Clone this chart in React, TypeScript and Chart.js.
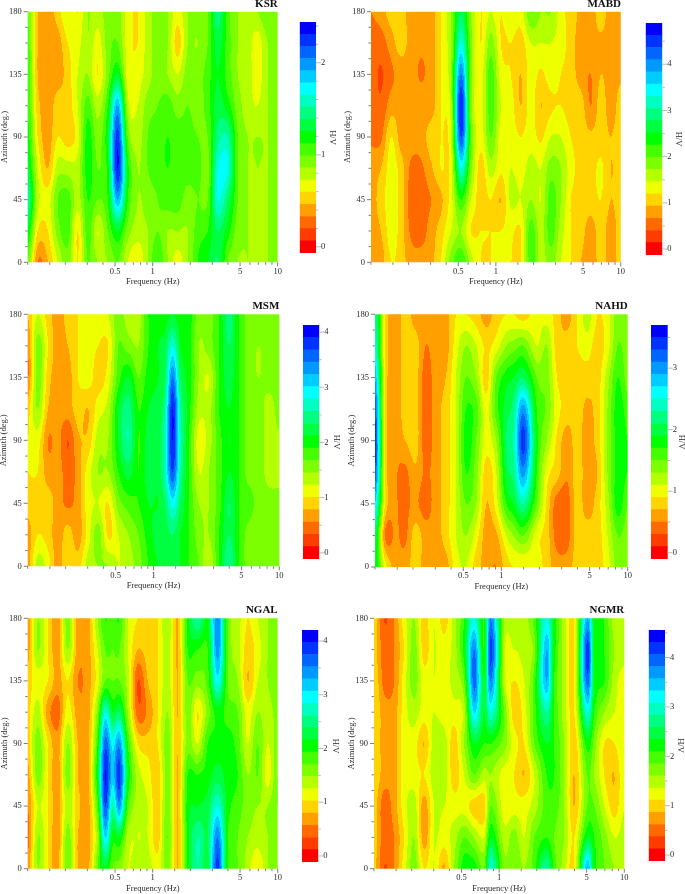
import React, { useEffect, useRef } from "react";
import { Chart, registerables } from "chart.js";

Chart.register(...registerables);

const FONT = "'Liberation Serif', 'Times New Roman', serif";
const bandColors = ["#ff0000","#ff3c00","#ff6900","#ff9f00","#ffd400","#eeff00","#b4ff00","#7cff00","#45ff00","#00ff00","#00ff40","#00ff80","#00ffc0","#00ffff","#00ccff","#0099ff","#0066ff","#0033ff","#0000ff"];
const frequencies = [0.1,0.12,0.145,0.174,0.209,0.251,0.302,0.363,0.437,0.525,0.631,0.759,0.912,1.096,1.318,1.585,1.905,2.291,2.754,3.311,3.981,4.786,5.754,6.918,8.318,10];
const msmFrequencies = [0.1,0.12,0.145,0.174,0.209,0.251,0.302,0.363,0.437,0.525,0.631,0.759,0.912,1.096,1.234,1.419,1.632,1.905,2.291,2.754,3.311,3.981,4.786,5.754,6.918,8.318,10];
const nahdFrequencies = [0.1,0.12,0.145,0.174,0.209,0.251,0.302,0.363,0.437,0.525,0.631,0.759,0.912,1.096,1.245,1.493,1.905,2.291,2.754,3.311,3.981,4.786,5.754,6.918,8.318,10];
const ngalFrequencies = [0.1,0.12,0.145,0.174,0.209,0.251,0.302,0.363,0.416,0.479,0.541,0.631,0.759,0.912,1.096,1.318,1.585,1.905,2.291,2.754,3.311,3.981,4.786,5.754,6.918,8.318,10];
const ngmrFrequencies = [0.1,0.12,0.145,0.174,0.209,0.251,0.302,0.363,0.437,0.525,0.631,0.759,0.855,1.096,1.318,1.585,1.905,2.396,2.754,3.311,3.981,5.06,5.754,6.918,8.318,10];
const azimuths = [180,157.5,135,112.5,90,67.5,45,22.5,0];
const azimuthTicks = [0,11.25,22.5,33.75,45,56.25,67.5,78.75,90,101.25,112.5,123.75,135,146.25,157.5,168.75,180];
const frequencyTicks = [0.1,0.15,0.2,0.3,0.4,0.5,0.6,0.7,0.8,0.9,1,1.5,2,3,4,5,6,7,8,9,10];
const frequencyLabels = [0.5,1,5,10];

// Colour-band position of each node: one row per frequency, top (180 deg) to bottom (0 deg).
const ksrBands = [
[8,8.5,9,9,9.5,10.5,12,10,8],[4,4,4,4.5,5,6,6.5,5,3],[3.5,3.5,3.5,3.5,3.5,4,5.5,5,4],[4.5,3.5,3.5,4.5,5,6.5,8,7.5,6],[6,5,4.5,4.5,4.5,6.5,8.5,8.5,7.5],[5,5.5,6,6,5.5,6.5,6.5,5,5],
[7,7,7,8.5,9.5,9.5,9,8.5,8],[6.5,5.5,5,6.5,7.5,8,8,6,7],[7.5,7.5,7.5,9,10,9.5,9,8,7],[7.5,8,10,15,17.5,18,15,10,8],[5.5,5.5,5.5,6.5,8,9.5,9,7.5,6],[5,5,5.5,6,6.5,7,7,6.5,5],
[6.5,6.5,6.5,7.5,8,8,7.5,7,7],[7.5,7.5,7.5,8,8.5,8.5,8,8,9],[7,7,7,8.5,9,9,8.5,7,7],[5.5,4.5,6,7.5,8.5,8.5,8.5,7,5.5],[7,7,7.5,8,8.5,8.5,7.5,7,7],[7.5,7,7.5,7.5,8,8.5,8,8.5,9],
[8,8,8.5,8.5,8,7.5,8,9,10],[11.5,10.5,10,10.5,11.5,13,13,11,11],[8.5,8.5,8.5,9.5,12,13,11,9.5,8],[7,7,7,7.5,8,8,8,7.5,7],[6.5,6.5,6.5,6.5,7,7,7,7,7],[7,5.5,5.5,6,7,7,7,7,7],[8,7,7,7,7,7,7,7,7],[7.5,7.5,7.5,7.5,7.5,7.5,7.5,7.5,7.5]];
const mabdBands = [
[3,2.5,2.5,2.5,2.8,3.5,3.5,3.5,3.5],[3.5,2.5,1.9,2.2,2.8,4,4.5,4,3.5],[4.5,3.5,2.8,3.5,5,5.5,5.5,5.5,5],[4.5,4.5,3.3,3.5,3.5,4.5,4.5,4.5,4.5],[3.5,3.5,3.5,3.5,3.5,2.8,2.5,2.8,3.5],[3.5,3.2,2.9,3.5,3.5,2.8,2.5,2.5,3.5],
[3.5,3.5,3.5,3.5,4.5,3.8,3,3.5,3.7],[5,5,5,5,5,5,3.8,4.5,5],[7,7,7,6.5,6,5.5,5.5,6,7.5],[11,13,16,18,17,13,9,7,9],[7,7.5,7.5,7.5,8,7.5,6,5,6.5],[5,5,5.5,5.5,5.5,4.5,4.5,5,5],
[6,7.5,8.5,8.5,8,6.5,5,5,5],[5,5,5.5,6,5.5,5.2,4,5,5],[6,5,5,5.5,5.5,6,6.2,5.2,5],[5.5,4.5,4,4,5,5.5,6,5,5],[8,6,5.5,5.5,5.5,6.5,7,8.5,8.5],[7,6,4.8,4,4.8,6,6,6.5,6.5],
[7,6,5.5,4.8,6,7.5,8.5,8.5,7.5],[5.5,5.5,5,5,6,7,7,6.5,6],[4.5,4.5,4.5,4.5,5,5.5,5,5,5],[3.8,3.5,3.5,4.5,4.5,4.5,4.5,4.5,4],[3.5,3.5,3,3,4.2,4.5,4.5,3.5,3.2],[4.5,3.8,4,4.5,4.5,5.2,5,4.5,4.5],[3.5,3.5,3.5,3.5,4,4,4,3.5,3.5],[4,3.5,3.8,4.5,4.5,4.5,4.5,4.5,4.5]];
const msmBands = [
[4,3,2.8,4.5,5,5,4.5,3.5,3.5],[6,7.5,7.5,7,5.5,5,4.5,5,6.5],[4.5,5,4.5,4,3,3.5,4.5,4.5,5.5],[3.5,3.5,3.5,3.5,3.3,3.5,3.5,3.5,3.5],[4.5,4,3.5,3.5,2,2.5,2.8,4.5,5],[5,5,5,4.5,3.8,3.5,3.5,3.5,4.5],
[6,5.5,5.5,4,4.3,5.5,5.5,5.5,6.5],[5.5,5,4.5,5.5,6.5,7,6,7.5,7],[6,5,5.5,6.5,7,7,5,4.8,7],[7.5,8,8.5,10,10,9,7.5,6,6],[6.5,7.5,10,11.5,12,10.5,8.5,7,6.5],[6.5,7,8,9,9,9,9,8,7.5],
[9,9,9.5,10,10.5,10.5,10,9.5,9],[9.5,10,10,10.5,10.5,10.5,10,10.5,10],[9.5,10.5,11,12,12.5,12.5,11,10.5,10],[10,13,16,18,18,17,13.5,11,10.5],[9.5,10,11,12,12.5,12,11,10,10],[9.5,9.5,9.5,9.5,9,9,9,9,9],[7.5,7,7,6.5,5.5,6,7,7.5,8],
[7.5,7.5,6,6.5,6.5,7,7,7,6],[9,9,9,9,8.5,8.5,8.5,9,9],[11.5,11,10.5,10,10,10,11,11,12],[9,9,9,9,9,9,9,9,9],[7.5,7.5,7.5,7.5,7.5,7.5,8.5,7.5,7.5],[7.5,7,7,7.5,7.5,7.5,7.5,7.5,7.5],[7.5,7.5,7.5,6.5,6.5,6.5,7.5,7.5,7.5],[7.5,7.5,7.5,7.5,6.8,6.5,7.5,7.5,7.5]];
const nahdBands = [
[12,13,15,17,17.5,17,14,11,10],[5,5,5,5,5,5,5,3,5.5],[3.5,3.5,3.5,3.5,3.5,3.2,3.2,3.2,3.5],[4.5,4.5,4.5,4.5,4,2.8,2.8,2.8,3.5],[3.5,4.5,4.5,4.5,4.5,3.8,3.2,4.5,4.5],[3.5,3,2.5,2.5,2.5,2.8,2.5,3.5,3.5],
[3.5,3.5,3.5,3.5,3.5,3.5,3.5,3.5,3.5],[3.5,3.5,4,4.5,4.5,4.5,4.5,4.5,3.5],[5,5.5,6,6,6,6,6,6,5.5],[5,7,8,9,9.5,9,8,7,6],[4.5,6,7,8.5,8,7.5,7,5.5,4.5],[3.5,4.8,4.5,5.5,5.5,4.5,4,3.5,3.5],
[4.5,5.5,8,8.5,7,6,5.5,3.8,3],[5,7,9.5,10.5,11,10.5,9,6,4.5],[5,7.5,10,11.5,12,11.5,10,7,5],[4.5,8,11,15.5,17.5,15.5,12,8,5],[5.5,6,8,9,9.5,9,8,5.5,5.5],[5.5,7,7.5,7.8,7,5.5,4.8,4.5,4.5],
[4.5,4.5,5,5.5,4.8,4.5,2.5,2.5,3.5],[3.5,4.5,4.5,4.5,3.5,3.2,2.5,2.5,3.5],[5,5,4.5,4.5,4.5,4.5,4.5,4.5,4.5],[6.5,5.5,4.5,3.8,3.5,3.5,3.5,4.5,4.5],[5,4.5,4.5,4.5,4.5,4,4.5,4.5,4.5],[5.5,5.5,6.5,7,7,7,6.5,6,5.5],[7.5,8,9,9.5,9.5,9.5,9.5,8,7.5],[7.5,7.5,7.5,8.5,9,9,8,7.5,7.5]];
const ngalBands = [
[3,3.5,4.5,4.5,4.5,3.5,3,2.5,3.5],[7,7,5.5,6.5,7.5,7.5,6,7,7],[5,5,5,3.5,5,5,5,5,5],[3.5,3.5,3.5,2.5,3.5,3.5,3.5,3.5,3.5],[7.5,7,5,5.5,7,7.5,6.5,7.5,8],[3.5,3.5,3,3.5,4,4,4.5,4,4],
[3.5,3.5,3.5,3.5,3.5,3.5,3.5,3.5,3.5],[7,6,5.5,7.5,9,10,8.5,7,8],[9,8,8,13,16.5,18,17,14,10],[8.5,8,8,10,13.5,14.5,12,9.5,8],[9,8,8,11,15.5,17.5,15.5,10,7.5],[6,6,6.5,7,9,10,8.5,6.5,6],[5,4,2,2.5,5,6.5,6.5,6,6.5],
[5,4.5,4,3.2,4.5,5.5,6,6,6.5],[5,5,5,5,5,4.3,4.5,4.5,5.5],[7,6.5,6.5,7,7.5,7.5,7.5,8,7.5],[4,4,4,4,4,4,4,4,4],[9.5,9,8,7.5,7.5,9,9.5,9.5,9.5],[12,9,7.5,5,6,9,10,12,12],
[10,9,8.5,7.5,9,9.5,10.5,11,10.5],[16,15.5,13.5,9.5,9.5,10.5,13,16,17.5],[8,8,8,8.5,9.5,9.5,9.5,9,9],[6.5,6.5,7,8,8.5,9,8.5,8,8],[5,4.5,4,5.5,6,7,7.5,7,6.5],[6,5.5,6,7,8,8,7,6.5,5],[7,7,7,6.5,6,5.5,7,7,7],[7.5,7.5,8,7.5,7.5,8,8,7.5,8]];
const ngmrBands = [
[5,4.5,5,5,5,5,4.5,4.5,4.5],[2,2.5,2.7,3.5,3.5,3.5,2.5,2.5,2],[3,3,3,3.5,3.5,3.5,3.5,3,3],[5.5,5,5.5,5.5,5.5,5.5,5.5,5,5.5],[7,7.5,7.5,6.5,5.5,5.5,6.5,7,7.5],[4.5,4.5,5.5,5.5,4,5,3.5,3.5,5],
[6,6,6,6,6.5,6.5,6,6,6],[4.5,5.5,5.5,5.5,6.5,6.5,6,5.5,3.8],[6.5,6.5,6.5,5.5,4.5,4.5,5.5,6.5,7],[9,9.5,8,6.5,7,6,5.5,8,9.5],[13,16,16.5,14,10,8,4.5,7,9.5],[9,9,10,10,9,6.5,4.5,6,8],
[16,17.5,16,13,9,7,8,10,13],[7,6.5,6.5,8,7.5,5.5,5.5,6.5,7.5],[7,6,5,4.5,5.5,5,5.5,7.5,8],[6.5,6.5,6,5.5,5,4,5.5,6,7],[8.5,7.5,8.5,8.5,8,6,6.5,8,8.5],[13,15,15,12,10,9,8.5,9,12],
[9.5,9.5,9,9,9,9,8.5,8,8.5],[6.5,6.5,6.5,6.5,7,7,7,7,6.5],[5,5,5,5,4.3,4,4,5,5],[15,17.5,16.5,13,9.5,8,8,10,15],[9.5,10,10,9,7.5,7,8,9,9.5],[9,9,9,7,5,5,6,7.5,8],[6.5,7,6.5,6,5,4,4.5,6,7],[6.5,6.5,5.5,5.5,6,6,6,6.5,6.5]];

const panels = [
  { name: "KSR", bands: ksrBands, freqs: frequencies, vMin: -0.066, step: 0.132, major: [0,1,2], minorStep: 0.2, plot: [27.7,277.7,11.7,262.3], bar: [299.7,316,18.3,257], nameY: 4.5, yTitleX: 4.7, barTitleX: 331 },
  { name: "MABD", bands: mabdBands, freqs: frequencies, vMin: -0.126, step: 0.264, major: [0,1,2,3,4], minorStep: 0.5, plot: [371,621,11.7,262.3], bar: [645.7,662.3,19,258.3], nameY: 4.5, yTitleX: 347.7, barTitleX: 677 },
  { name: "MSM", bands: msmBands, freqs: msmFrequencies, vMin: -0.11, step: 0.223, major: [0,1,2,3,4], minorStep: 0.5, plot: [27.7,279.3,314.3,566.3], bar: [303,319.3,321.7,562.3], nameY: 306, yTitleX: 4, barTitleX: 335 },
  { name: "NAHD", bands: nahdBands, freqs: nahdFrequencies, vMin: -0.1, step: 0.2, major: [0,1,2,3], minorStep: 0.5, plot: [375,627.7,314.3,567], bar: [651,667.7,321.7,563], nameY: 306, yTitleX: 351.7, barTitleX: 680 },
  { name: "NGAL", bands: ngalBands, freqs: ngalFrequencies, vMin: -0.11, step: 0.227, major: [0,1,2,3,4], minorStep: 0.5, plot: [27.7,277.7,618.3,868.7], bar: [302,318.3,626.7,865.3], nameY: 610, yTitleX: 4.7, barTitleX: 334 },
  { name: "NGMR", bands: ngmrBands, freqs: ngmrFrequencies, vMin: -0.117, step: 0.246, major: [0,1,2,3,4], minorStep: 0.5, plot: [374,624.3,618.3,868.7], bar: [648.7,665,626,864.7], nameY: 610, yTitleX: 351.7, barTitleX: 679.5 },
];

const cr = (a: number, b: number, c: number, d: number, t: number) =>
  0.5 * (2 * b + (c - a) * t + (2 * a - 5 * b + 4 * c - d) * t * t + (3 * b - a - 3 * c + d) * t * t * t);

function hexToRgb(h: string) {
  return [parseInt(h.slice(1, 3), 16), parseInt(h.slice(3, 5), 16), parseInt(h.slice(5, 7), 16)];
}
const bandRgb = bandColors.map(hexToRgb);

// Filled contour: read from the dataset, positioned through the chart's scales.
const contourPlugin = {
  id: "contour",
  beforeDatasetsDraw(chart: any) {
    const opts = chart.options.plugins.contour;
    const pts = chart.data.datasets[0].data;
    const nr = azimuths.length;
    const nc = pts.length / nr;
    const at = (c: number, r: number) => {
      const cc = Math.max(0, Math.min(nc - 1, c)), rr = Math.max(0, Math.min(nr - 1, r));
      return pts[cc * nr + rr].v;
    };
    const { left, right, top, bottom } = chart.chartArea;
    const xs = chart.scales.x, ys = chart.scales.y;
    const pad = 3;
    const x0 = Math.floor(left) - pad, y0 = Math.floor(top) - pad;
    const w = Math.ceil(right) + pad - x0, h = Math.ceil(bottom) + pad - y0;
    const off = document.createElement("canvas");
    off.width = w; off.height = h;
    const octx = off.getContext("2d")!;
    const img = octx.createImageData(w, h);
    const logF: number[] = [];
    for (let c = 0; c < nc; c++) logF.push(Math.log10(pts[c * nr].x));
    const colPos: number[] = [];
    for (let i = 0; i < w; i++) {
      const px = Math.max(left, Math.min(right, x0 + i + 0.5));
      const lf = Math.log10(xs.getValueForPixel(px));
      let k = 0;
      while (k < nc - 2 && logF[k + 1] < lf) k++;
      colPos.push(k + (lf - logF[k]) / (logF[k + 1] - logF[k]));
    }
    for (let j = 0; j < h; j++) {
      const py = Math.max(top, Math.min(bottom, y0 + j + 0.5));
      const az = ys.getValueForPixel(py);
      let r = 0;
      while (r < nr - 2 && azimuths[r + 1] > az) r++;
      const rt = (azimuths[r] - az) / (azimuths[r] - azimuths[r + 1]);
      for (let i = 0; i < w; i++) {
        const cp = colPos[i];
        const c = Math.max(0, Math.min(nc - 2, Math.floor(cp)));
        const ct = cp - c;
        const vals = [-1, 0, 1, 2].map((d) =>
          cr(at(c + d, r - 1), at(c + d, r), at(c + d, r + 1), at(c + d, r + 2), rt));
        const v = cr(vals[0], vals[1], vals[2], vals[3], ct);
        const b = Math.max(0, Math.min(bandRgb.length - 1, Math.floor((v - opts.vMin) / opts.step)));
        const o = (j * w + i) * 4;
        img.data[o] = bandRgb[b][0];
        img.data[o + 1] = bandRgb[b][1];
        img.data[o + 2] = bandRgb[b][2];
        img.data[o + 3] = 255;
      }
    }
    octx.putImageData(img, 0, 0);
    const ctx = chart.ctx;
    ctx.save();
    ctx.beginPath();
    ctx.rect(left, top, right - left, bottom - top);
    ctx.clip();
    ctx.filter = "blur(0.6px)";
    ctx.drawImage(off, x0, y0);
    ctx.restore();
  },
};

// Tick marks of two lengths, taken from each scale's own ticks.
const tickMarkPlugin = {
  id: "tickMarks",
  afterDraw(chart: any) {
    const ctx = chart.ctx;
    ctx.save();
    Object.values(chart.scales).forEach((s: any) => {
      if (!s.options.display) return;
      ctx.strokeStyle = s.id === "bar" ? "#999" : "#444";
      ctx.lineWidth = 0.7;
      ctx.beginPath();
      s.ticks.forEach((t: any) => {
        const isLabelled = t.label !== "";
        const len = s.id === "bar" ? (isLabelled ? 5 : 2.5) : isLabelled ? 4 : 2.5;
        const p = s.getPixelForValue(t.value);
        if (s.id === "x") { ctx.moveTo(p, s.top); ctx.lineTo(p, s.top + len); }
        else if (s.id === "y") { ctx.moveTo(s.right, p); ctx.lineTo(s.right - len, p); }
        else { ctx.moveTo(s.left, p); ctx.lineTo(s.left + len, p); }
      });
      ctx.stroke();
    });
    ctx.restore();
  },
};

const tickFont = { family: FONT, size: 8.5 };
const TEXT = "#2a2a2a";
const noGrid = { display: false, drawTicks: false };

function useChart(ref: any, make: () => any) {
  useEffect(() => {
    const c = new Chart(ref.current, make());
    return () => c.destroy();
  }, []);
}

function Contour({ p }: { p: any }) {
  const ref = useRef<HTMLCanvasElement>(null);
  const [l, r, t, b] = p.plot;
  const cx = Math.round(p.yTitleX - 5.1);
  const cy = Math.round(p.nameY - 5.5);
  const xAxisH = 25, padR = 8;
  const W = Math.ceil(r + padR - cx), H = Math.ceil(b + xAxisH - cy);
  useChart(ref, () => ({
    type: "scatter",
    data: {
      datasets: [{
        label: p.name,
        data: p.freqs.flatMap((f: number, c: number) => azimuths.map((a, k) => ({ x: f, y: a, v: p.vMin + p.bands[c][k] * p.step }))),
        pointRadius: 0,
        showLine: false,
      }],
    },
    plugins: [contourPlugin, tickMarkPlugin],
    options: {
      animation: false, responsive: false, devicePixelRatio: 1,
      layout: { padding: { left: 0, top: 0, right: W - (r - cx), bottom: H - (b + xAxisH - cy) } },
      plugins: {
        legend: { display: false }, tooltip: { enabled: false },
        contour: { vMin: p.vMin, step: p.step },
        title: {
          display: true, text: p.name, align: "end", color: "#111",
          font: { family: FONT, size: 11, weight: "bold", lineHeight: 1 },
          padding: { top: 0, bottom: t - cy - 11 },
        },
      },
      scales: {
        x: {
          type: "logarithmic", min: 0.1, max: 10, offset: false,
          grid: noGrid, border: { display: false },
          afterBuildTicks: (s: any) => { s.ticks = frequencyTicks.map((value) => ({ value })); },
          afterFit: (s: any) => { s.height = xAxisH; },
          ticks: {
            autoSkip: false, maxRotation: 0, minRotation: 0, padding: 4, color: TEXT, font: tickFont,
            callback: (v: any) => (frequencyLabels.includes(v) ? String(v) : ""),
          },
          title: { display: true, text: "Frequency (Hz)", color: TEXT, font: tickFont, padding: 0 },
        },
        y: {
          type: "linear", min: 0, max: 180,
          grid: noGrid, border: { display: false },
          afterBuildTicks: (s: any) => { s.ticks = azimuthTicks.map((value) => ({ value })); },
          afterFit: (s: any) => { s.width = l - cx; },
          ticks: {
            autoSkip: false, maxRotation: 0, minRotation: 0, padding: 6, color: TEXT, font: tickFont,
            callback: (v: any) => (v % 45 === 0 ? String(v) : ""),
          },
          title: { display: true, text: "Azimuth (deg.)", color: TEXT, font: tickFont, padding: 0 },
        },
      },
    },
  }));
  return <canvas ref={ref} width={W} height={H} style={{ position: "absolute", left: cx, top: cy, width: W, height: H }} />;
}

function ColorBar({ p }: { p: any }) {
  const ref = useRef<HTMLCanvasElement>(null);
  const [l, r, t, b] = p.bar;
  const cx = Math.floor(l), cy = Math.floor(t) - 6;
  const W = Math.ceil(p.barTitleX + 5.1 - cx), H = Math.ceil(b + 6 - cy);
  const vMax = p.vMin + p.step * bandColors.length;
  const barTicks: number[] = [];
  for (let n = 0; n * p.minorStep <= vMax + 1e-9; n++) barTicks.push(+(n * p.minorStep).toFixed(3));
  useChart(ref, () => ({
    type: "bar",
    data: {
      labels: ["H/V"],
      datasets: bandColors.map((color, i) => ({
        label: String(i),
        data: [[p.vMin + i * p.step, p.vMin + (i + 1) * p.step]],
        backgroundColor: color,
        borderWidth: 0,
        barThickness: r - l,
        grouped: false,
        yAxisID: "bar",
        xAxisID: "x",
      })),
    },
    plugins: [tickMarkPlugin],
    options: {
      animation: false, responsive: false, devicePixelRatio: 1,
      layout: { padding: { left: l - cx, top: t - cy, right: 0, bottom: H - (b - cy) } },
      plugins: { legend: { display: false }, tooltip: { enabled: false } },
      scales: {
        x: { type: "category", display: false, offset: true },
        bar: {
          axis: "y", type: "linear", position: "right", min: p.vMin, max: vMax,
          grid: noGrid, border: { display: false },
          afterBuildTicks: (s: any) => { s.ticks = barTicks.map((value) => ({ value })); },
          afterFit: (s: any) => { s.width = W - (r - cx); },
          ticks: {
            autoSkip: false, maxRotation: 0, minRotation: 0, padding: 5, color: TEXT, font: tickFont,
            callback: (v: any) => (p.major.includes(v) ? String(v) : ""),
          },
          title: { display: true, text: "H/V", color: TEXT, font: tickFont, padding: 0 },
        },
      },
    },
  }));
  return <canvas ref={ref} width={W} height={H} style={{ position: "absolute", left: cx, top: cy, width: W, height: H }} />;
}

export default function App() {
  return (
    <div style={{ position: "absolute", left: 0, top: 0, width: 685, height: 894, overflow: "hidden", background: "#fff" }}>
      {panels.map((p) => (
        <React.Fragment key={p.name}>
          <Contour p={p} />
          <ColorBar p={p} />
        </React.Fragment>
      ))}
    </div>
  );
}
